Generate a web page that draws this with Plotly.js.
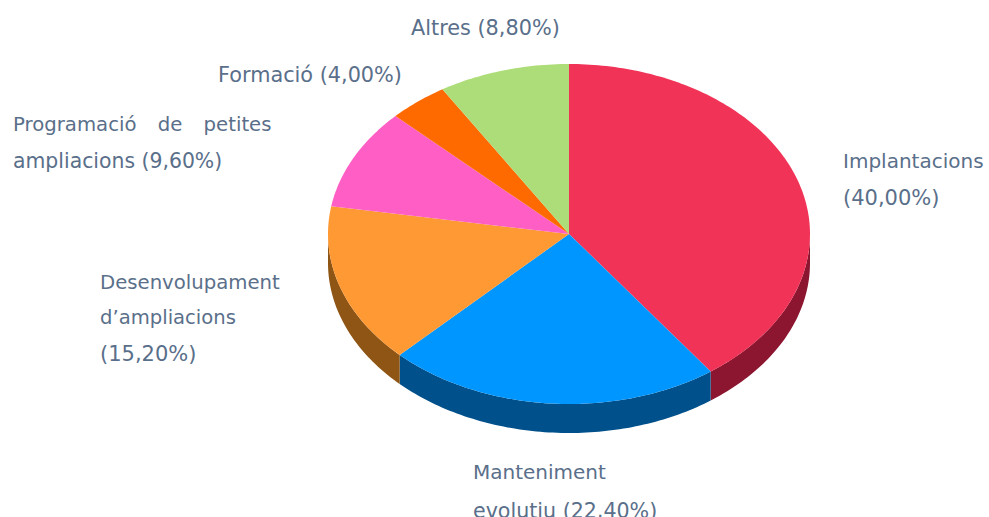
<!DOCTYPE html>
<html>
<head>
<meta charset="utf-8">
<script src="https://cdn.plot.ly/plotly-3.0.1.min.js"></script>
<style>html,body{margin:0;padding:0;background:#fff;overflow:hidden}#chart{width:989px;height:517px}</style>
</head>
<body>
<div id="chart"></div>
<script>
const categories = ["Implantacions","Manteniment evolutiu","Desenvolupament d’ampliacions","Programació de petites ampliacions","Formació","Altres"];
const shares = [40.00,22.40,15.20,9.60,4.00,8.80];
const topColors = ["#f23358","#0096ff","#ff9933","#ff5fc4","#ff6a00","#addd78"];
const sideColors = ["#8c1530","#00508c","#8f5514","#8f3570","#8f3b00","#617c43"];

const W = 989, H = 517, CX = 569, CY = 234, RX = 241, RY = 170, DEPTH = 29;
const textColor = "#5a6f8a";

// axes are in pie units: radius 1 on both, so the ellipse comes from the ranges
const xRange = [-CX / RX, (W - CX) / RX];
const yRange = [-(H - CY) / RY, CY / RY];
const depth = DEPTH / RY;

const total = shares.reduce((a, b) => a + b, 0);
const rad = d => d * Math.PI / 180;
function arc(a0, a1, dy) {
  const n = Math.max(2, Math.ceil(Math.abs(a1 - a0)));
  const xs = [], ys = [];
  for (let i = 0; i <= n; i++) {
    const a = rad(a0 + (a1 - a0) * i / n);
    xs.push(Math.sin(a));
    ys.push(Math.cos(a) - dy);
  }
  return [xs, ys];
}

const wedges = [], walls = [];
let start = 0;
shares.forEach((v, i) => {
  const end = start + v / total * 360;
  const [ax, ay] = arc(start, end, 0);
  wedges.push({
    type: "scatter", mode: "none", name: categories[i],
    x: [0, ...ax, 0], y: [0, ...ay, 0],
    fill: "toself", fillcolor: topColors[i], hoverinfo: "name", showlegend: false
  });
  const a0 = Math.max(start, 90), a1 = Math.min(end, 270);
  if (a1 > a0) {
    const [tx, ty] = arc(a0, a1, 0);
    const [bx, by] = arc(a1, a0, depth);
    walls.push({
      type: "scatter", mode: "none", name: categories[i],
      x: [...tx, ...bx, tx[0]], y: [...ty, ...by, ty[0]],
      fill: "toself", fillcolor: sideColors[i], hoverinfo: "skip", showlegend: false
    });
  }
  start = end;
});

const labelLines = [
  ["Altres (8,80%)", 410, 28, 20.8],
  ["Formació (4,00%)", 217, 75, 20.8],
  ['<span style="word-spacing:15px">Programació de petites</span>', 12, 124, 19.7],
  ["ampliacions (9,60%)", 12, 161, 20.4],
  ["Implantacions", 842, 161, 20],
  ["(40,00%)", 842, 198, 21],
  ["Desenvolupament", 99, 282, 19.7],
  ["d’ampliacions", 99, 317, 19.6],
  ["(15,20%)", 99, 354, 21],
  ["Manteniment", 472, 472, 20],
  ["evolutiu (22,40%)", 472, 511, 20.6]
];
const annotations = labelLines.map(([text, x, y, size]) => ({
  text, xref: "paper", yref: "paper", x: x / W, y: 1 - y / H,
  xanchor: "left", yanchor: "middle", showarrow: false,
  borderpad: 0, align: "left",
  font: {family: "'DejaVu Sans', Verdana, sans-serif", size, color: textColor}
}));

const hidden = {visible: false, fixedrange: true, showgrid: false, zeroline: false};
Plotly.newPlot("chart", [...walls, ...wedges], {
  width: W, height: H,
  margin: {l: 0, r: 0, t: 0, b: 0},
  paper_bgcolor: "#fff", plot_bgcolor: "#fff",
  showlegend: false,
  xaxis: {...hidden, range: xRange},
  yaxis: {...hidden, range: yRange},
  annotations
}, {displayModeBar: false, responsive: false});
</script>
</body>
</html>
